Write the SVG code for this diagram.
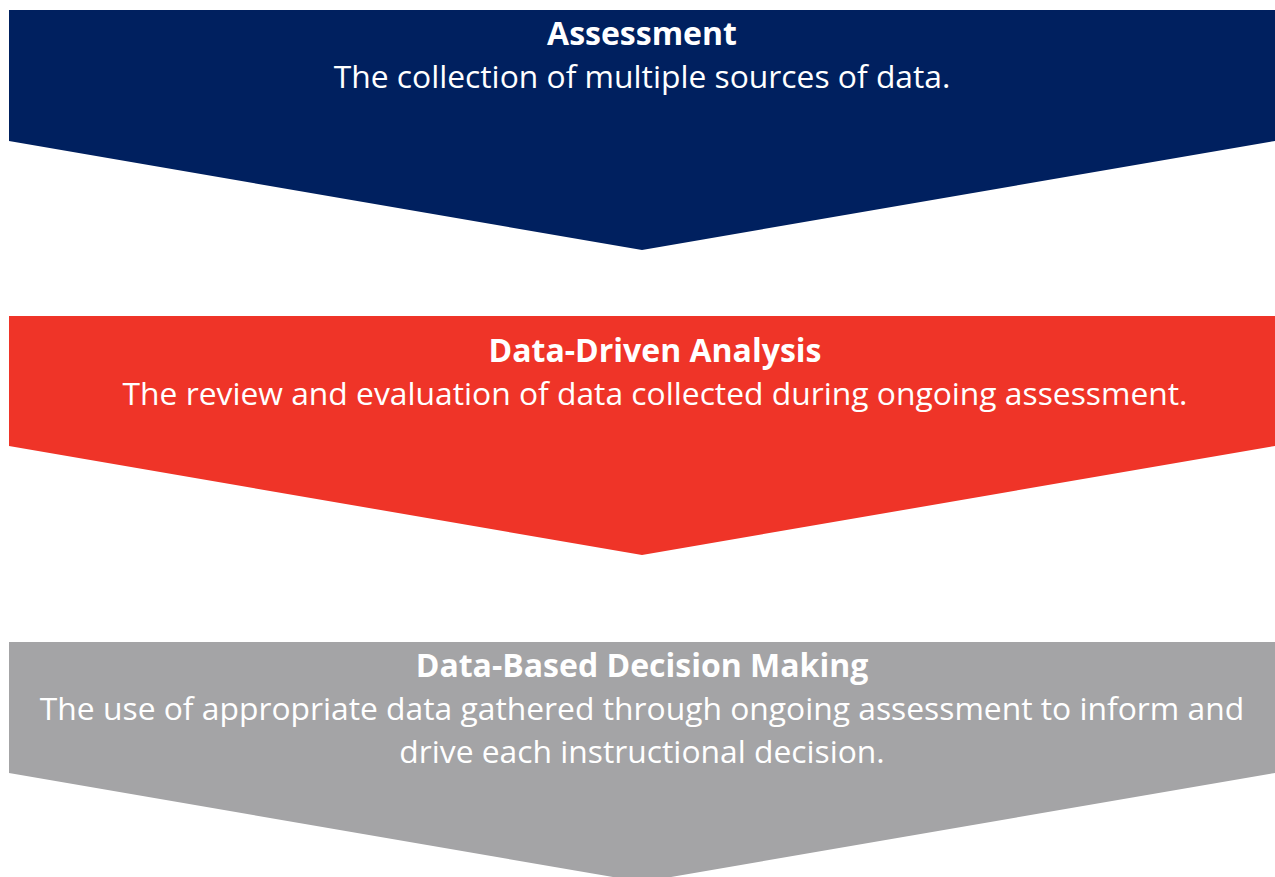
<svg xmlns="http://www.w3.org/2000/svg" width="1275" height="877" viewBox="0 0 1275 877">
<style>
.t{font-family:"Open Sans","Noto Sans","Liberation Sans",sans-serif;fill:#FFFFFF;text-anchor:middle;font-weight:700;font-size:32px}
.d{font-family:"Open Sans","Noto Sans","Liberation Sans",sans-serif;fill:#FFFFFF;text-anchor:middle;font-weight:400;font-size:31.8px}
</style>
<rect width="1275" height="877" fill="#FFFFFF"/>
<g id="assessment">
<polygon points="9,10 1275,10 1275,141 642,250 9,141" fill="#00205F"/>
<text class="t" x="642" y="45">Assessment</text>
<text class="d" x="642" y="88">The collection of multiple sources of data.</text>
</g>
<g id="analysis">
<polygon points="9,316 1275,316 1275,446 642,555 9,446" fill="#EF3428"/>
<text class="t" x="655" y="362">Data-Driven Analysis</text>
<text class="d" x="655" y="405">The review and evaluation of data collected during ongoing assessment.</text>
</g>
<g id="decision">
<polygon points="9,642 1275,642 1275,773 642,882 9,773" fill="#A4A4A6"/>
<text class="t" x="642" y="677">Data-Based Decision Making</text>
<text class="d" x="642" y="720">The use of appropriate data gathered through ongoing assessment to inform and</text>
<text class="d" x="642" y="763">drive each instructional decision.</text>
</g>
<g id="connectors"/>
</svg>
